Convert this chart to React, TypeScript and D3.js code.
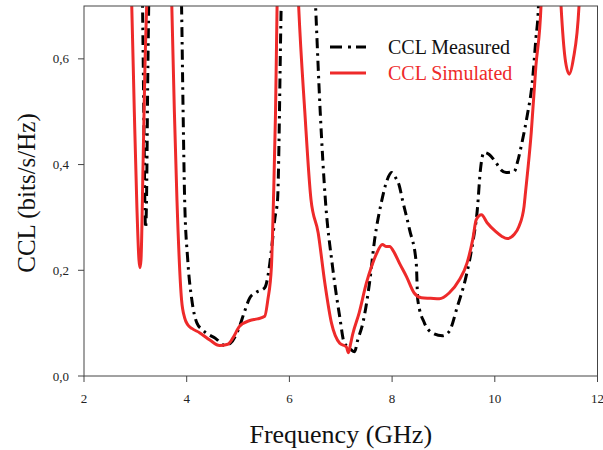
import React from "react";
import * as d3 from "d3";

const measuredFreq = [3.10, 3.14, 3.17, 3.19, 3.20, 3.22, 3.24, 3.26, 3.30, 3.6, 3.85, 3.90, 3.93, 3.96, 4.02, 4.10, 4.20, 4.30, 4.45, 4.55, 4.74, 4.85, 5.03, 5.12, 5.23, 5.35, 5.52, 5.60, 5.65, 5.72, 5.77, 5.84, 5.90, 6.40, 6.51, 6.60, 6.70, 6.84, 6.98, 7.07, 7.15, 7.20, 7.27, 7.33, 7.43, 7.56, 7.66, 7.79, 7.90, 7.99, 8.07, 8.14, 8.20, 8.34, 8.47, 8.50, 8.63, 8.79, 8.98, 9.11, 9.27, 9.44, 9.57, 9.66, 9.72, 9.79, 9.89, 10.02, 10.12, 10.22, 10.38, 10.44, 10.53, 10.63, 10.73, 10.80, 10.85, 10.90];
const measuredCCL = [0.90, 0.70, 0.45, 0.30, 0.28, 0.35, 0.55, 0.70, 0.95, 1.20, 0.90, 0.70, 0.50, 0.334, 0.22, 0.144, 0.100, 0.088, 0.077, 0.072, 0.058, 0.062, 0.094, 0.120, 0.148, 0.158, 0.167, 0.200, 0.239, 0.300, 0.334, 0.70, 0.95, 0.95, 0.70, 0.50, 0.334, 0.207, 0.112, 0.062, 0.055, 0.050, 0.046, 0.068, 0.100, 0.176, 0.258, 0.328, 0.370, 0.385, 0.375, 0.360, 0.334, 0.277, 0.214, 0.144, 0.100, 0.081, 0.076, 0.084, 0.131, 0.188, 0.252, 0.315, 0.390, 0.423, 0.419, 0.404, 0.390, 0.385, 0.387, 0.404, 0.442, 0.492, 0.556, 0.638, 0.70, 0.90];

const simulatedFreq = [2.85, 2.93, 2.98, 3.03, 3.07, 3.09, 3.11, 3.15, 3.19, 3.22, 3.26, 3.6, 3.67, 3.71, 3.76, 3.81, 3.90, 3.96, 4.02, 4.10, 4.25, 4.45, 4.64, 4.80, 4.90, 5.03, 5.23, 5.38, 5.52, 5.58, 5.65, 5.69, 5.73, 5.76, 5.80, 6.10, 6.18, 6.30, 6.42, 6.56, 6.69, 6.82, 6.98, 7.11, 7.15, 7.19, 7.23, 7.36, 7.50, 7.60, 7.69, 7.81, 7.88, 7.95, 8.05, 8.14, 8.28, 8.43, 8.57, 8.75, 8.92, 9.11, 9.31, 9.46, 9.57, 9.64, 9.74, 9.85, 10.02, 10.14, 10.24, 10.38, 10.47, 10.57, 10.59, 10.71, 10.80, 10.90, 10.95, 11.20, 11.29, 11.37, 11.45, 11.53, 11.64, 11.70];
const simulatedCCL = [0.90, 0.70, 0.50, 0.32, 0.22, 0.205, 0.22, 0.40, 0.60, 0.70, 0.90, 1.20, 0.90, 0.70, 0.50, 0.334, 0.144, 0.110, 0.097, 0.090, 0.082, 0.068, 0.0575, 0.060, 0.072, 0.094, 0.105, 0.108, 0.113, 0.144, 0.207, 0.334, 0.50, 0.70, 0.90, 0.90, 0.70, 0.50, 0.334, 0.271, 0.176, 0.100, 0.062, 0.055, 0.044, 0.060, 0.078, 0.120, 0.176, 0.207, 0.230, 0.249, 0.245, 0.245, 0.232, 0.214, 0.188, 0.157, 0.148, 0.147, 0.146, 0.157, 0.182, 0.214, 0.258, 0.296, 0.305, 0.290, 0.273, 0.264, 0.260, 0.268, 0.283, 0.321, 0.340, 0.461, 0.586, 0.70, 0.90, 0.90, 0.70, 0.60, 0.571, 0.60, 0.70, 0.90];

const xTicks = [2, 4, 6, 8, 10, 12];
const yTicks = [0, 0.2, 0.4, 0.6];
const yTickLabels = ["0,0", "0,2", "0,4", "0,6"];
const seriesNames = ["CCL Measured", "CCL Simulated"];

export default function App() {
  const W = 603, H = 450;
  const left = 84, right = 597.5, top = 6, bottom = 376;
  const x = d3.scaleLinear().domain([2, 12]).range([left, right]);
  const y = d3.scaleLinear().domain([0, 0.7]).range([bottom, top]);
  const line = d3.line<[number, number]>().x(d => x(d[0])).y(d => y(d[1])).curve(d3.curveMonotoneX);
  const mData = measuredFreq.map((f, i) => [f, measuredCCL[i]] as [number, number]);
  const sData = simulatedFreq.map((f, i) => [f, simulatedCCL[i]] as [number, number]);
  const font = "'Liberation Serif', 'Times New Roman', serif";
  return (
    <svg width={W} height={H} style={{ position: "absolute", left: 0, top: 0, background: "#fff" }} fontFamily={font}>
      <defs>
        <clipPath id="plot">
          <rect x={left} y={top} width={right - left} height={bottom - top} />
        </clipPath>
      </defs>
      <g clipPath="url(#plot)">
        <path d={line(mData) || ""} fill="none" stroke="#000" strokeWidth={3} strokeDasharray="10,5,2.5,5" />
        <path d={line(sData) || ""} fill="none" stroke="#ee2a2a" strokeWidth={3} />
      </g>
      <rect x={left} y={top} width={right - left} height={bottom - top} fill="none" stroke="#444" strokeWidth={1} />
      {xTicks.map(t => (
        <g key={"x" + t}>
          <line x1={x(t)} x2={x(t)} y1={bottom} y2={bottom + 6} stroke="#444" />
          <text x={x(t)} y={bottom + 27} textAnchor="middle" fontSize={13} fill="#222">{t}</text>
        </g>
      ))}
      {yTicks.map((t, i) => (
        <g key={"y" + t}>
          <line x1={left - 6} x2={left} y1={y(t)} y2={y(t)} stroke="#444" />
          <text x={left - 15} y={y(t) + 4.5} textAnchor="end" fontSize={13} fill="#222">{yTickLabels[i]}</text>
        </g>
      ))}
      <text x={(left + right) / 2} y={443} textAnchor="middle" fontSize={26} fill="#111">Frequency (GHz)</text>
      <text transform="translate(35, 193) rotate(-90)" textAnchor="middle" fontSize={25} fill="#111">CCL (bits/s/Hz)</text>
      <line x1={330} x2={366} y1={47} y2={47} stroke="#000" strokeWidth={3} strokeDasharray="12,6,3,5" />
      <text x={388} y={53.5} fontSize={20} fill="#111">{seriesNames[0]}</text>
      <line x1={330} x2={366} y1={73} y2={73} stroke="#ee2a2a" strokeWidth={3} />
      <text x={388} y={79.5} fontSize={20} fill="#ee2a2a">{seriesNames[1]}</text>
    </svg>
  );
}
